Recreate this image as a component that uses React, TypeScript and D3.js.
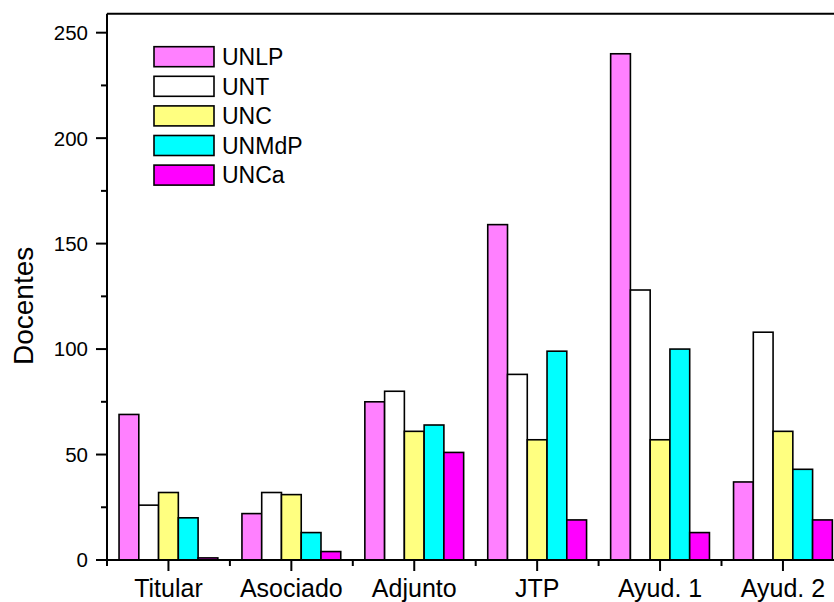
import React from "react";
import * as d3 from "d3";

const categories = ["Titular", "Asociado", "Adjunto", "JTP", "Ayud. 1", "Ayud. 2"];
const seriesNames = ["UNLP", "UNT", "UNC", "UNMdP", "UNCa"];
const seriesColors = ["#FF80FF", "#FFFFFF", "#FFFF80", "#00FFFF", "#FF00FF"];
const UNLP = [69, 22, 75, 159, 240, 37];
const UNT = [26, 32, 80, 88, 128, 108];
const UNC = [32, 31, 61, 57, 57, 61];
const UNMdP = [20, 13, 64, 99, 100, 43];
const UNCa = [1, 4, 51, 19, 13, 19];
const seriesValues = [UNLP, UNT, UNC, UNMdP, UNCa];
const yTicks = [0, 50, 100, 150, 200, 250];
const yMinorTicks = [25, 75, 125, 175, 225];

const W = 834;
const H = 602;
const left = 107;
const bandW = 122.9;
const right = left + bandW * categories.length;
const bottom = 560;
const top = 13.7;

export default function App() {
  const x = d3.scaleBand<string>().domain(categories).range([left, right]).padding(0);
  const inner = d3
    .scaleBand<string>()
    .domain(seriesNames)
    .range([x.bandwidth() * 0.098, x.bandwidth() * 0.902])
    .padding(0);
  const y = d3.scaleLinear().domain([0, 259]).range([bottom, top]);
  const font = "'Liberation Sans', Arial, sans-serif";
  const boundaries = d3.range(categories.length + 1).map((i) => left + i * x.bandwidth());

  return (
    <svg
      width={W}
      height={H}
      style={{ position: "absolute", left: 0, top: 0, background: "#fff" }}
      fontFamily={font}
    >
      {categories.map((c, ci) =>
        seriesNames.map((s, si) => {
          const v = seriesValues[si][ci];
          const bx = (x(c) as number) + (inner(s) as number);
          return (
            <rect
              key={c + s}
              x={bx}
              y={y(v)}
              width={inner.bandwidth()}
              height={y(0) - y(v)}
              fill={seriesColors[si]}
              stroke="#000"
              strokeWidth={1.6}
            />
          );
        })
      )}
      <line x1={left} x2={left} y1={top} y2={bottom} stroke="#000" strokeWidth={2} />
      <line x1={left} x2={right} y1={top} y2={top} stroke="#000" strokeWidth={2} />
      <line x1={left - 1} x2={right} y1={bottom} y2={bottom} stroke="#000" strokeWidth={2} />
      {yTicks.map((t) => (
        <g key={t}>
          <line x1={left - 11} x2={left} y1={y(t)} y2={y(t)} stroke="#000" strokeWidth={2} />
          <text x={left - 19} y={y(t)} dy="0.36em" textAnchor="end" fontSize={20.5} fill="#000">
            {t}
          </text>
        </g>
      ))}
      {yMinorTicks.map((t) => (
        <line key={t} x1={left - 6} x2={left} y1={y(t)} y2={y(t)} stroke="#000" strokeWidth={2} />
      ))}
      {categories.map((c) => {
        const cx = (x(c) as number) + x.bandwidth() / 2;
        return (
          <g key={c}>
            <line x1={cx} x2={cx} y1={bottom} y2={bottom + 11} stroke="#000" strokeWidth={2} />
            <text x={cx} y={597} textAnchor="middle" fontSize={25} fill="#000">
              {c}
            </text>
          </g>
        );
      })}
      {boundaries.map((b, i) => (
        <line key={i} x1={b} x2={b} y1={bottom} y2={bottom + 6} stroke="#000" strokeWidth={2} />
      ))}
      <text
        transform={`translate(33, ${(246.7 + 365) / 2}) rotate(-90)`}
        textAnchor="middle"
        fontSize={28}
        fill="#000"
      >
        Docentes
      </text>
      {seriesNames.map((s, i) => {
        const ly = 46.7 + i * 29.6;
        return (
          <g key={s}>
            <rect x={154} y={ly} width={60} height={20} fill={seriesColors[i]} stroke="#000" strokeWidth={1.6} />
            <text x={222} y={ly + 10} dy="0.36em" fontSize={23} fill="#000">
              {s}
            </text>
          </g>
        );
      })}
    </svg>
  );
}
